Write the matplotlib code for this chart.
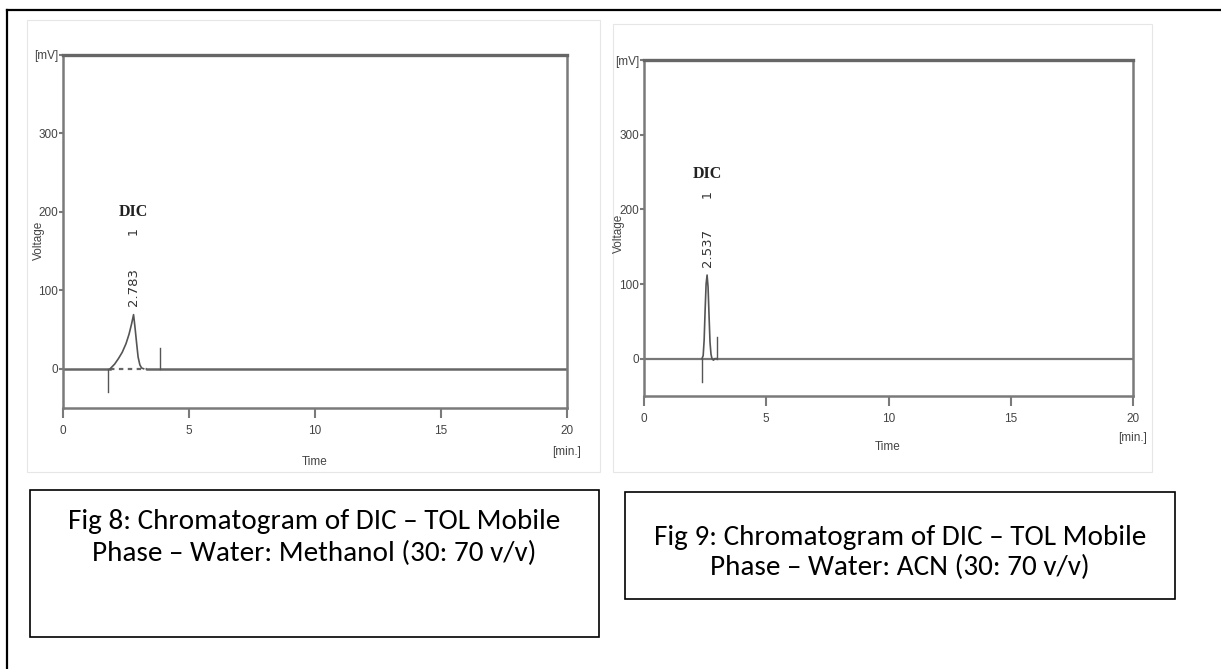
import matplotlib
matplotlib.use("Agg")
import matplotlib.pyplot as plt
from matplotlib.patches import Rectangle
from matplotlib.lines import Line2D
from matplotlib import font_manager

# ---------------- data ----------------
x_ticks = [0, 5, 10, 15, 20]
y_ticks = [0, 100, 200, 300, 400]
y_ticklabels = ["0", "100", "200", "300", "[mV]"]

# Fig 8 (Water: Methanol) signal
t_meoh = [1.87, 2.05, 2.2, 2.35, 2.5, 2.62, 2.72, 2.8, 2.86, 2.92, 2.98, 3.05, 3.12, 3.2]
v_meoh = [0, 6, 13, 21, 32, 44, 57, 69, 52, 33, 15, 5, 1, 0]
rt_meoh = "2.783"
events_meoh_t = [1.8, 3.85]
events_meoh_v = [-30, 27]

# Fig 9 (Water: ACN) signal
t_acn = [2.37, 2.42, 2.46, 2.5, 2.54, 2.58, 2.62, 2.66, 2.7, 2.74, 2.78, 2.84, 2.9, 2.98]
v_acn = [0, 4, 25, 65, 100, 112, 96, 58, 22, 6, 0, -2, 0, 0]
rt_acn = "2.537"
events_acn_t = [2.37, 2.98]
events_acn_v = [-31, 29]

caption1 = ["Fig 8: Chromatogram of DIC \u2013 TOL Mobile",
            "Phase \u2013 Water: Methanol (30: 70 v/v)"]
caption2 = ["Fig 9: Chromatogram of DIC \u2013 TOL Mobile",
            "Phase \u2013 Water: ACN (30: 70 v/v)"]

# ---------------- fonts ----------------
avail = {f.name for f in font_manager.fontManager.ttflist}
def pick(*names):
    for n in names:
        if n in avail:
            return n
    return "DejaVu Sans"
narrow = pick("Liberation Sans Narrow", "Liberation Sans", "Arial")
serif = pick("Liberation Serif", "DejaVu Serif")
capfont = pick("Carlito", "Calibri", "Lato", "Open Sans")

W, H = 1221, 669
fig = plt.figure(figsize=(W / 100, H / 100), dpi=100)
fig.patch.set_facecolor("white")

def fx(px):
    return px / W

def fy(py):
    return 1 - py / H

AX_C = "#7a7a7a"
TXT_C = "#444444"
TICK_FS = 8.5

def draw_panel(box, t, v, events_t, events_v, rt, dashed, peak_t, peak_v, label_y):
    x0, y0, x1, y1 = box
    ax = fig.add_axes([fx(x0), fy(y1), fx(x1 - x0), (y1 - y0) / H])
    ax.set_xlim(0, 20)
    ax.set_ylim(-50, 400)
    for s in ["left", "right", "bottom"]:
        ax.spines[s].set_color(AX_C)
        ax.spines[s].set_linewidth(1.8)
    ax.spines["top"].set_color("#666666")
    ax.spines["top"].set_linewidth(2.4)
    ax.set_xticks(x_ticks)
    ax.set_xticklabels([str(x) for x in x_ticks], fontsize=TICK_FS, color=TXT_C, family=narrow)
    ax.set_yticks(y_ticks)
    ax.set_yticklabels(y_ticklabels, fontsize=TICK_FS, color=TXT_C, family=narrow)
    ax.tick_params(axis="x", direction="out", length=7.5, width=1.5, color=AX_C, pad=5)
    ax.tick_params(axis="y", direction="out", length=3, width=1.5, color=AX_C, pad=0.5)
    # baseline
    if dashed:
        ax.plot([0, t[0]], [0, 0], color="#666666", lw=1.8)
        ax.plot([t[0], t[-1] + 0.15], [0, 0], color="#666666", lw=1.6, ls=(0, (2, 2)))
        ax.plot([t[-1] + 0.15, 20], [0, 0], color="#666666", lw=1.8)
    else:
        ax.plot([0, 20], [0, 0], color="#777777", lw=1.6)
    ax.plot(t, v, color="#555555", lw=1.2)
    for et, ev in zip(events_t, events_v):
        ax.plot([et, et], [0, ev], color="#555555", lw=1.0)
    ax.text(peak_t, label_y, "DIC", family=serif, fontweight="bold", fontsize=11.5,
            ha="center", va="bottom", color="#222222")
    ax.text(peak_t, label_y - 10, "1", rotation=90, fontsize=9, ha="center", va="top",
            color="#333333", family="DejaVu Sans")
    ax.text(peak_t, peak_v + 11, rt, rotation=90, fontsize=9.5, ha="center", va="bottom",
            color="#333333", family="DejaVu Sans")
    return ax

# Panel 1
ax1 = draw_panel((63, 55, 567, 408), t_meoh, v_meoh, events_meoh_t, events_meoh_v,
                 rt_meoh, True, 2.8, 69, 190)
fig.text(fx(39), fy(240), "Voltage", rotation=90, fontsize=TICK_FS, color=TXT_C,
         family=narrow, ha="center", va="center")
fig.text(fx(315), fy(462), "Time", fontsize=TICK_FS, color=TXT_C, family=narrow,
         ha="center", va="center")
fig.text(fx(567), fy(452), "[min.]", fontsize=TICK_FS, color=TXT_C, family=narrow,
         ha="center", va="center")

# Panel 2
ax2 = draw_panel((644, 60, 1133, 396), t_acn, v_acn, events_acn_t, events_acn_v,
                 rt_acn, False, 2.58, 112, 236)
fig.text(fx(619), fy(233), "Voltage", rotation=90, fontsize=TICK_FS, color=TXT_C,
         family=narrow, ha="center", va="center")
fig.text(fx(888), fy(447), "Time", fontsize=TICK_FS, color=TXT_C, family=narrow,
         ha="center", va="center")
fig.text(fx(1133), fy(438), "[min.]", fontsize=TICK_FS, color=TXT_C, family=narrow,
         ha="center", va="center")

# light screenshot borders
for (x0, y0, x1, y1) in [(27, 20, 600, 472), (613, 24, 1152, 472)]:
    fig.add_artist(Rectangle((fx(x0), fy(y1)), fx(x1 - x0), (y1 - y0) / H,
                             fill=False, edgecolor="#e6e6e6", lw=0.8, zorder=0))

# outer black frame
fig.add_artist(Line2D([fx(7), fx(7)], [fy(10), 0], color="black", lw=1.6))
fig.add_artist(Line2D([fx(7), 1], [fy(10), fy(10)], color="black", lw=1.6))

# caption boxes
renderer = fig.canvas.get_renderer()
target_w = 492.0
for (x0, y0, x1, y1), cap, ys in [((30, 490, 599, 637), caption1, (522, 553)),
                                   ((625, 492, 1175, 599), caption2, (537, 567))]:
    fig.add_artist(Rectangle((fx(x0), fy(y1)), fx(x1 - x0), (y1 - y0) / H,
                             fill=False, edgecolor="black", lw=1.2))
    texts = [fig.text(fx((x0 + x1) / 2), fy(yy), line, fontsize=16, family=capfont,
                      ha="center", va="center", color="black")
             for line, yy in zip(cap, ys)]
    w = texts[0].get_window_extent(renderer).width
    fs = 16 * target_w / w
    for tt in texts:
        tt.set_fontsize(fs)

fig.savefig("out.png", dpi=100, facecolor="white")
